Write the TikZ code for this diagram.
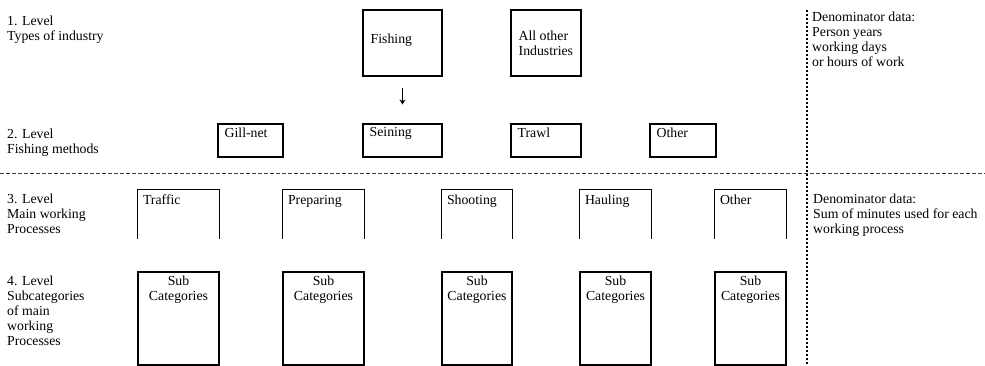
\documentclass[tikz,border=0pt]{standalone}
\usepackage{fontspec}
\setmainfont{Liberation Serif}
\usetikzlibrary{arrows.meta,positioning}

\begin{document}
\begin{tikzpicture}[
  x=1pt, y=-1pt,
  font=\fontsize{13.8}{15}\selectfont,
  unit/.style={
    rectangle,
    draw=black,
    line width=1.1pt,
    inner sep=0pt,
    minimum width=#1
  },
  topbox/.style={unit=#1, minimum height=66pt},
  methbox/.style={unit=#1, minimum height=33pt},
  procbox/.style={rectangle, inner sep=0pt, minimum width=#1, minimum height=49pt},
  subbox/.style={unit=#1, minimum height=93pt},
  opencut/.style={draw=black, line width=1.1pt},
  lvltext/.style={anchor=north west, align=left, inner sep=0pt},
  tl/.style={anchor=north west, inner sep=0pt, xshift=#1},
  link/.style={-{Stealth[length=5pt, width=6pt]}, line width=1.1pt}
]
\useasboundingbox (0,0) rectangle (985,366);

% level texts
\node[lvltext] (lvl1) at (7,16) {1. Level\\Types of industry};
\node[lvltext] (lvl2) at (7,129) {2. Level\\Fishing methods};
\node[lvltext] (lvl3) at (7,194) {3. Level\\Main working\\Processes};
\node[lvltext] (lvl4) at (7,276) {4. Level\\Subcategories\\of main\\working\\Processes};

\node[lvltext] (denom1) at (812,12) {Denominator data:\\Person years\\working days\\or hours of  work};
\node[lvltext] (denom2) at (813,194) {Denominator data:\\Sum of minutes used for each\\working process};

% 1. level
\node[topbox=79pt, label={[anchor=west, inner sep=0pt, xshift=8pt, yshift=3pt]west:Fishing}] (fishing) at (402.5,43) {};
\node[topbox=70pt, label={[anchor=west, align=left, inner sep=0pt, xshift=8pt]west:All other\\Industries}] (otherind) at (546,43) {};

% 2. level
\node[methbox=65pt, label={[tl=7pt, yshift=-4pt]north west:Gill-net}] (gillnet) at (250.5,140.5) {};
\node[methbox=79pt, label={[tl=7pt, yshift=-4pt]north west:Seining}] (seining) at (402.5,140.5) {};
\node[methbox=70pt, label={[tl=7pt, yshift=-4pt]north west:Trawl}] (trawl) at (546,140.5) {};
\node[methbox=66pt, label={[tl=7pt, yshift=-4pt]north west:Other}] (othermeth) at (683,140.5) {};

\draw[link, shorten <=11pt, shorten >=19pt] (fishing) -- (seining);

% 3. level
\node[procbox=81pt, label={[tl=5pt, yshift=-5pt]north west:Traffic}] (traffic) at (178.5,214.5) {};
\node[procbox=81pt, label={[tl=5pt, yshift=-5pt]north west:Preparing}] (preparing) at (323.5,214.5) {};
\node[procbox=70pt, label={[tl=5pt, yshift=-5pt]north west:Shooting}] (shooting) at (477,214.5) {};
\node[procbox=71pt, label={[tl=5pt, yshift=-5pt]north west:Hauling}] (hauling) at (615.5,214.5) {};
\node[procbox=71pt, label={[tl=5pt, yshift=-5pt]north west:Other}] (otherproc) at (750.5,214.5) {};
\foreach \p in {traffic,preparing,shooting,hauling,otherproc}
  \draw[opencut] (\p.south west) |- (\p.north east) -- (\p.south east);

% 4. level
\foreach \p/\x/\w in {subtraffic/178.5/81,subpreparing/323.5/81,subshooting/477/70,subhauling/615.5/71,subother/750.5/71}
  \node[subbox=\w pt, label={[anchor=north, align=center, inner sep=0pt, yshift=-4pt]north:Sub\\Categories}] (\p) at (\x,318.5) {};

% separators
\coordinate (hl) at (0,174);
\coordinate (hr) at (985,174);
\coordinate (vt) at (807,10);
\coordinate (vb) at (807,366);
\draw[black!75, line width=1pt, dash pattern=on 4pt off 2pt] (hl) -- (hr);
\draw[black, line width=1.6pt, dash pattern=on 1.6pt off 2.4pt] (vt) -- (vb);

\end{tikzpicture}
\end{document}
